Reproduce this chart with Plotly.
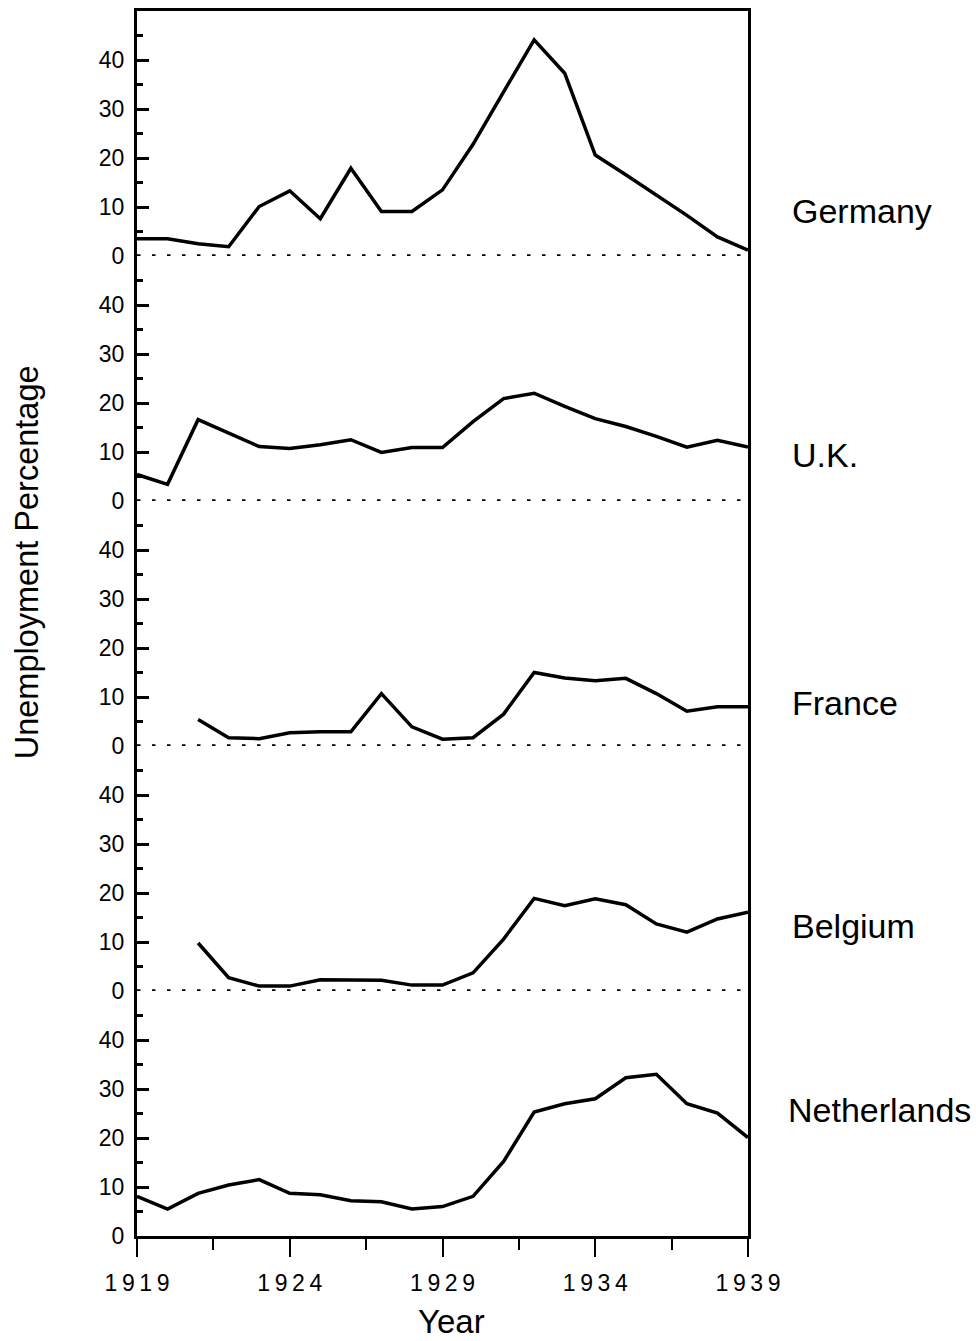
import plotly.graph_objects as go
from plotly.subplots import make_subplots

years = list(range(1919, 1940))
years_from_1921 = list(range(1921, 1940))

germany = [3.5, 3.5, 2.5, 1.9, 10.1, 13.3, 7.6, 17.9, 9.1, 9.1, 13.5, 22.8,
           33.5, 44.1, 37.3, 20.6, 16.6, 12.5, 8.3, 3.9, 1.2]
uk = [5.4, 3.4, 16.6, 13.9, 11.1, 10.7, 11.5, 12.5, 9.9, 10.9, 10.9, 16.2,
      20.9, 22.0, 19.3, 16.8, 15.2, 13.2, 11.0, 12.4, 11.0]
france = [5.4, 1.7, 1.5, 2.7, 2.9, 2.9, 10.7, 3.9, 1.4, 1.7, 6.5, 15.0,
          13.9, 13.3, 13.8, 10.7, 7.1, 8.0, 8.0]
belgium = [9.8, 2.7, 1.0, 1.0, 2.3, 2.3, 2.2, 1.2, 1.2, 3.7, 10.6, 18.9,
           17.4, 18.8, 17.6, 13.7, 12.0, 14.7, 16.1]
netherlands = [8.1, 5.5, 8.7, 10.4, 11.5, 8.7, 8.4, 7.2, 7.0, 5.5, 6.0, 8.1,
               15.2, 25.3, 27.0, 28.0, 32.3, 33.0, 27.0, 25.1, 20.1]

countries = ["Germany", "U.K.", "France", "Belgium", "Netherlands"]
series_x = [years, years, years_from_1921, years_from_1921, years]
series_y = [germany, uk, france, belgium, netherlands]

y_major = [0, 10, 20, 30, 40]
y_minor = [5, 15, 25, 35, 45]
x_major = [1919, 1924, 1929, 1934, 1939]
x_labels = ["\u2009".join(str(v)) for v in x_major]

FONT = "Liberation Sans, Arial, Helvetica, sans-serif"

fig = make_subplots(rows=5, cols=1, shared_xaxes=True, vertical_spacing=0)

for i, (xs, ys) in enumerate(zip(series_x, series_y)):
    fig.add_trace(go.Scatter(x=xs, y=ys, mode="lines",
                             line=dict(color="black", width=3.5),
                             showlegend=False, hoverinfo="skip"),
                  row=i + 1, col=1)
    if i < 4:
        fig.add_hline(y=0, row=i + 1, col=1,
                      line=dict(color="black", width=3.5, dash="3.5px,11.5px"))
    fig.update_yaxes(range=[0, 50], tickvals=y_major, ticks="inside",
                     ticklen=12, tickwidth=3, tickcolor="black",
                     showline=True, linewidth=3, linecolor="black",
                     mirror=True, showgrid=False, zeroline=False,
                     ticklabelstandoff=5, automargin=False,
                     tickfont=dict(family=FONT, size=23, color="black"),
                     minor=dict(tickvals=y_minor, ticks="inside", ticklen=6,
                                tickwidth=3, tickcolor="black"),
                     row=i + 1, col=1)
    fig.update_xaxes(range=[1919, 1939], showgrid=False, zeroline=False,
                     automargin=False, row=i + 1, col=1)

fig.update_xaxes(showline=True, linewidth=3, linecolor="black", side="top",
                 ticks="", row=1, col=1)
for r in (2, 3, 4):
    fig.update_xaxes(showline=False, ticks="", row=r, col=1)

fig.update_xaxes(showline=True, linewidth=3, linecolor="black",
                 ticks="outside", ticklen=18, tickwidth=2, tickcolor="black",
                 tickvals=x_major, ticktext=x_labels, showticklabels=True,
                 ticklabelstandoff=6,
                 tickfont=dict(family=FONT, size=23, color="black"),
                 minor=dict(dtick=2.5, tick0=1919, ticks="outside", ticklen=11,
                            tickwidth=2, tickcolor="black"),
                 row=5, col=1)

label_y = [0.837, 0.6376, 0.435, 0.253, 0.1029]
label_x = [1.069, 1.069, 1.069, 1.069, 1.062]
annotations = []
for name, lx, ly in zip(countries, label_x, label_y):
    annotations.append(dict(text=name, x=lx, y=ly, xref="paper", yref="paper",
                            xanchor="left", yanchor="middle", showarrow=False,
                            font=dict(family=FONT, size=34, color="black")))
annotations.append(dict(text="Unemployment Percentage", x=-0.18, y=0.55,
                        xref="paper", yref="paper", textangle=-90,
                        xanchor="center", yanchor="middle", showarrow=False,
                        font=dict(family=FONT, size=32.5, color="black")))
annotations.append(dict(text="Year", x=0.514, y=-0.0702, xref="paper",
                        yref="paper", xanchor="center", yanchor="middle",
                        showarrow=False,
                        font=dict(family=FONT, size=33, color="black")))

fig.update_layout(width=976, height=1341,
                  margin=dict(l=137, r=228, t=11, b=105),
                  plot_bgcolor="white", paper_bgcolor="white",
                  showlegend=False, annotations=annotations)

fig.write_html("out.html", config={"displayModeBar": False},
               post_script="document.body.style.margin='0';"
                           "document.body.style.overflow='hidden';")
